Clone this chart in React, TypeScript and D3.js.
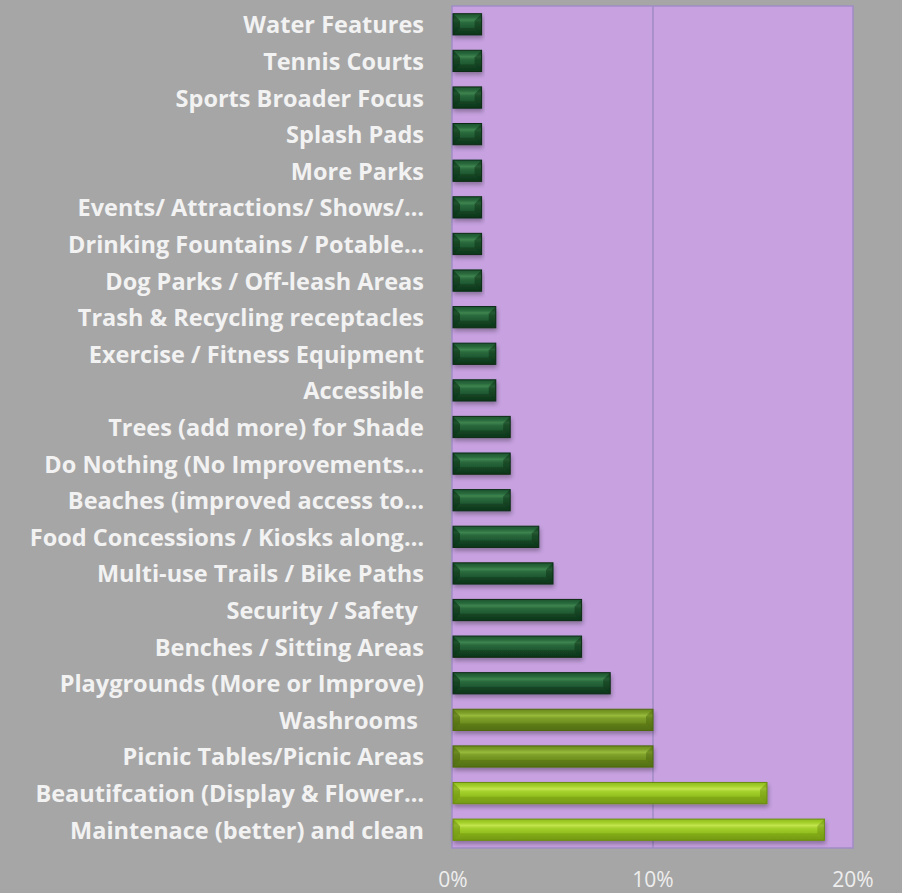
import { useMemo } from 'react'
import * as d3 from 'd3'

const WIDTH = 902
const HEIGHT = 893
const PLOT = { left: 453, right: 853, top: 6, bottom: 848 }

// top to bottom, as drawn
const categories = [
  'Water Features',
  'Tennis Courts',
  'Sports Broader Focus',
  'Splash Pads',
  'More Parks',
  'Events/ Attractions/ Shows/…',
  'Drinking Fountains / Potable…',
  'Dog Parks / Off-leash Areas',
  'Trash & Recycling receptacles',
  'Exercise / Fitness Equipment',
  'Accessible',
  'Trees (add more) for Shade',
  'Do Nothing (No Improvements…',
  'Beaches (improved access to…',
  'Food Concessions / Kiosks along…',
  'Multi-use Trails / Bike Paths',
  'Security / Safety ',
  'Benches / Sitting Areas',
  'Playgrounds (More or Improve)',
  'Washrooms ',
  'Picnic Tables/Picnic Areas',
  'Beautifcation (Display & Flower…',
  'Maintenace (better) and clean',
]

const values = [
  0.0143, 0.0143, 0.0143, 0.0143, 0.0143, 0.0143, 0.0143, 0.0143,
  0.0214, 0.0214, 0.0214,
  0.0286, 0.0286, 0.0286,
  0.0429, 0.05, 0.0643, 0.0643, 0.0786,
  0.1, 0.1, 0.157, 0.1857,
]

// colour group per bar: 0 dark green, 1 olive, 2 lime
const groups = [
  0, 0, 0, 0, 0, 0, 0, 0, 0, 0, 0, 0, 0, 0, 0, 0, 0, 0, 0,
  1, 1, 2, 2,
]

const xTicks = [0, 0.1, 0.2]

const PALETTE = [
  { top: '#2a6a3c', mid: '#1c5430', bottom: '#0e3a1c', light: '#3e8450', dark: '#082a12', edge: '#0a2c14' },
  { top: '#7fa02a', mid: '#6a8a1c', bottom: '#587612', light: '#98bb3c', dark: '#4a6410', edge: '#4e6812' },
  { top: '#a6d22e', mid: '#8fbb1c', bottom: '#7aa212', light: '#c2e44e', dark: '#6a8c10', edge: '#6a8c12' },
]

export default function App() {
  const x = useMemo(
    () => d3.scaleLinear().domain([0, 0.2]).range([PLOT.left, PLOT.right]),
    []
  )
  const y = useMemo(
    () =>
      d3
        .scaleBand<string>()
        .domain(categories)
        .range([PLOT.top, PLOT.bottom])
        .paddingInner(0.42)
        .paddingOuter(0.21),
    []
  )
  const fmt = d3.format('.0%')
  const bh = y.bandwidth()

  return (
    <svg
      width={WIDTH}
      height={HEIGHT}
      style={{ position: 'absolute', left: 0, top: 0, background: '#a6a6a6' }}
      fontFamily="'Open Sans', sans-serif"
    >
      <defs>
        {PALETTE.map((p, i) => (
          <linearGradient key={i} id={`g${i}`} x1="0" y1="0" x2="0" y2="1">
            <stop offset="0" stopColor={p.mid} />
            <stop offset="0.18" stopColor={p.top} />
            <stop offset="0.3" stopColor={p.light} />
            <stop offset="0.42" stopColor={p.top} />
            <stop offset="0.7" stopColor={p.mid} />
            <stop offset="1" stopColor={p.bottom} />
          </linearGradient>
        ))}
        <filter id="shadow" x="-10%" y="-30%" width="120%" height="180%">
          <feGaussianBlur in="SourceAlpha" stdDeviation="2" />
          <feOffset dx="1" dy="3" result="b" />
          <feComponentTransfer>
            <feFuncA type="linear" slope="0.3" />
          </feComponentTransfer>
          <feMerge>
            <feMergeNode />
            <feMergeNode in="SourceGraphic" />
          </feMerge>
        </filter>
      </defs>

      {/* plot area */}
      <rect
        x={PLOT.left - 1}
        y={PLOT.top}
        width={PLOT.right - PLOT.left + 1}
        height={PLOT.bottom - PLOT.top}
        fill="#c7a1e0"
        stroke="#a08dc6"
        strokeWidth={1.5}
      />
      {xTicks.slice(1, -1).map(t => (
        <line
          key={t}
          x1={x(t)}
          x2={x(t)}
          y1={PLOT.top}
          y2={PLOT.bottom}
          stroke="#a08dc6"
          strokeWidth={1.5}
        />
      ))}

      {/* bars */}
      {categories.map((c, i) => {
        const p = PALETTE[groups[i]]
        const x0 = x(0)
        const x1 = x(values[i])
        const y0 = y(c) as number
        const y1 = y0 + bh
        const bev = Math.min(7, (x1 - x0) / 3)
        return (
          <g key={c} filter="url(#shadow)">
            <rect x={x0} y={y0} width={x1 - x0} height={bh} fill={`url(#g${groups[i]})`} />
            {/* left bevel */}
            <polygon
              points={`${x0},${y0} ${x0 + bev},${y0 + bev} ${x0 + bev},${y1 - bev} ${x0},${y1}`}
              fill={p.dark}
              opacity={0.55}
            />
            {/* right bevel */}
            <polygon
              points={`${x1},${y0} ${x1 - bev},${y0 + bev} ${x1 - bev},${y1 - bev} ${x1},${y1}`}
              fill={p.dark}
              opacity={0.45}
            />
            {/* bottom bevel */}
            <polygon
              points={`${x0},${y1} ${x0 + bev},${y1 - bev} ${x1 - bev},${y1 - bev} ${x1},${y1}`}
              fill={p.dark}
              opacity={0.35}
            />
            <rect
              x={x0}
              y={y0}
              width={x1 - x0}
              height={bh}
              fill="none"
              stroke={p.edge}
              strokeWidth={1}
            />
          </g>
        )
      })}

      {/* category labels */}
      {categories.map(c => (
        <text
          key={`l-${c}`}
          x={424}
          y={(y(c) as number) + bh / 2}
          textAnchor="end"
          dominantBaseline="central"
          fontSize={23.5}
          fontWeight={700}
          fill="#f2f2f2"
          style={{ whiteSpace: 'pre' }}
        >
          {c}
        </text>
      ))}

      {/* x tick labels */}
      {xTicks.map(t => (
        <text
          key={`t-${t}`}
          x={x(t)}
          y={879}
          textAnchor="middle"
          dominantBaseline="central"
          fontSize={21}
          fill="#eeeeee"
        >
          {fmt(t)}
        </text>
      ))}
    </svg>
  )
}
